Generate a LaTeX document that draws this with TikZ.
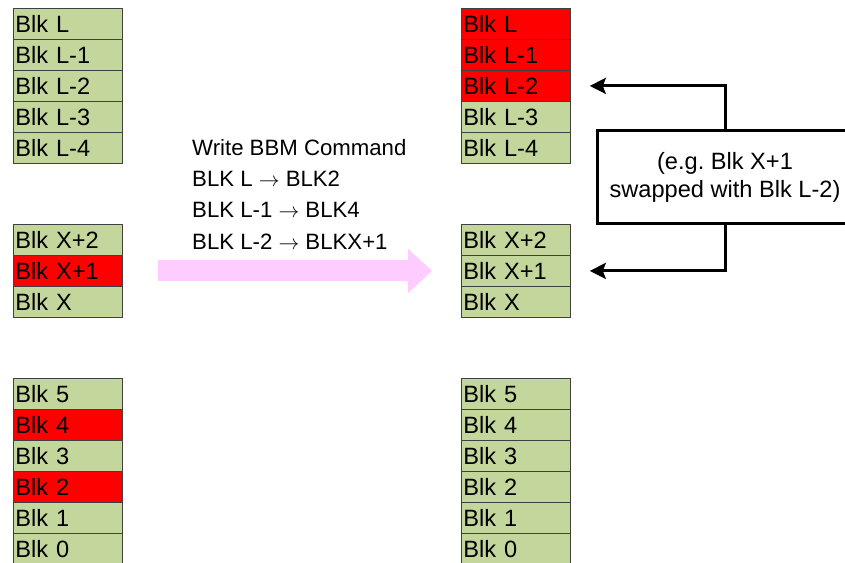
\documentclass[tikz,border=0pt]{standalone}
\usepackage{fontspec}
\setmainfont{Liberation Sans}
\usetikzlibrary{arrows.meta,positioning}

\definecolor{blkgreen}{HTML}{C3D69B}
\definecolor{blkred}{HTML}{FF0000}
\definecolor{movepink}{HTML}{FFCCFF}

\begin{document}
\begin{tikzpicture}[
		x=1pt,
		y=-1pt,
		blk/.style={
			draw=black!75,
			line width=0.8pt,
			fill=blkgreen,
			minimum width=109pt,
			minimum height=31pt,
			inner sep=0pt,
			text width=105pt,
			align=left,
			text height=19pt,
			text depth=1pt,
			anchor=north west,
			font=\fontsize{23.6}{26}\selectfont
		},
		hot/.style={blk, fill=blkred},
		move/.style={
			draw=movepink,
			line width=21pt,
			-{Triangle[length=24pt,width=43pt]}
		},
		cmd/.style={
			align=left,
			inner sep=0pt,
			anchor=north west,
			font=\fontsize{22.2}{31.3}\selectfont
		},
		swapbox/.style={
			draw=black,
			line width=3pt,
			minimum width=256pt,
			minimum height=93pt,
			align=center,
			font=\fontsize{23.6}{28}\selectfont
		},
		swaparrow/.style={
			draw=black,
			line width=3pt,
			-{Stealth[length=16pt,width=16pt,inset=3pt]}
		}
		]
		
		% frame
		\path[use as bounding box] (0,0) rectangle (845,562);
		\clip (0,0) rectangle (845,562);
		
		% left column (before)
		\foreach \nm/\lbl/\sty [count=\i from 0] in {L/Blk L/blk, L1/Blk L-1/blk, L2/Blk L-2/blk, L3/Blk L-3/blk, L4/Blk L-4/blk}
			\node[\sty] (l\nm) at (13,{8+31*\i}) {\lbl};
		\foreach \nm/\lbl/\sty [count=\i from 0] in {X2/Blk X+2/blk, X1/Blk X+1/hot, X/Blk X/blk}
			\node[\sty] (l\nm) at (13,{224+31*\i}) {\lbl};
		\foreach \nm/\lbl/\sty [count=\i from 0] in {5/Blk 5/blk, 4/Blk 4/hot, 3/Blk 3/blk, 2/Blk 2/hot, 1/Blk 1/blk, 0/Blk 0/blk}
			\node[\sty] (l\nm) at (13,{378+31*\i}) {\lbl};
		
		% right column (after)
		\foreach \nm/\lbl/\sty [count=\i from 0] in {L/Blk L/hot, L1/Blk L-1/hot, L2/Blk L-2/hot, L3/Blk L-3/blk, L4/Blk L-4/blk}
			\node[\sty] (r\nm) at (461,{8+31*\i}) {\lbl};
		\foreach \nm/\lbl/\sty [count=\i from 0] in {X2/Blk X+2/blk, X1/Blk X+1/blk, X/Blk X/blk}
			\node[\sty] (r\nm) at (461,{224+31*\i}) {\lbl};
		\foreach \nm/\lbl/\sty [count=\i from 0] in {5/Blk 5/blk, 4/Blk 4/blk, 3/Blk 3/blk, 2/Blk 2/blk, 1/Blk 1/blk, 0/Blk 0/blk}
			\node[\sty] (r\nm) at (461,{378+31*\i}) {\lbl};
		
		% command
		\node[cmd] (bbm) at (192,139) {Write BBM Command\\BLK L $\rightarrow$ BLK2\\BLK L-1 $\rightarrow$ BLK4\\BLK L-2 $\rightarrow$ BLKX+1};
		\draw[move] ([xshift=35]lX1.east) -- ([xshift=-29]rX1.west);
		
		% swap note
		\node[swapbox] (swap) at (725,177) {(e.g.\ Blk X+1\\swapped with Blk L-2)};
		\draw[swaparrow] (swap.north) |- ([xshift=19]rL2.east);
		\draw[swaparrow] (swap.south) |- ([xshift=19]rX1.east);
\end{tikzpicture}
\end{document}
